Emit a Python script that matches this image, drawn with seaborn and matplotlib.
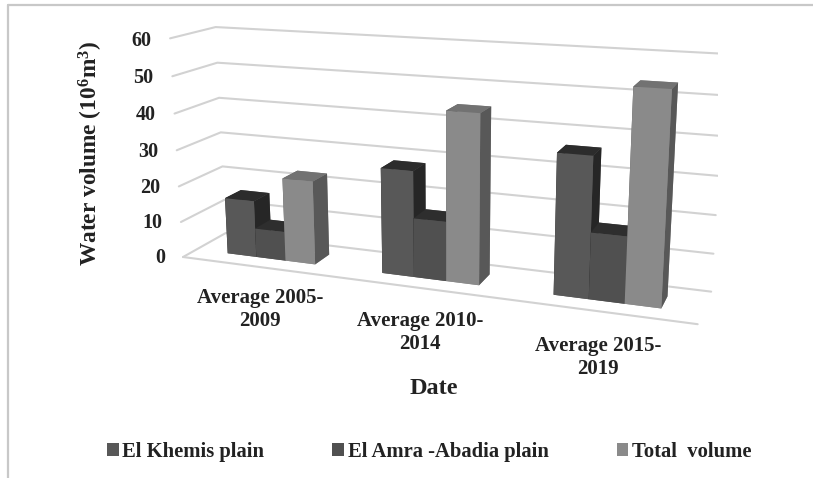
import matplotlib
matplotlib.use("Agg")
import matplotlib.pyplot as plt
from matplotlib.lines import Line2D
from matplotlib.patches import Patch
import seaborn as sns

# Water volume per period and per plain (10^6 m^3)
periods = ["Average 2005-\n2009", "Average 2010-\n2014", "Average 2015-\n2019"]
series_names = ["El Khemis plain", "El Amra -Abadia plain", "Total  volume"]
el_khemis = [15.8, 28.4, 36.4]
el_amra_abadia = [8.1, 15.9, 17.2]
total_volume = [23.0, 44.7, 53.7]
z_ticks = [0, 10, 20, 30, 40, 50, 60]

# Front, top and right face shades of each series
front_colors = ["#585858", "#505050", "#8a8a8a"]
top_colors = ["#2c2c2c", "#2e2e2e", "#727272"]
side_colors = ["#262626", "#262626", "#585858"]
grid_color = "#d2d2d2"
text_color = "#222222"

sns.set_theme(style="white")
plt.rcParams["font.family"] = ["Liberation Serif", "DejaVu Serif"]
plt.rcParams["font.weight"] = "bold"
plt.rcParams["mathtext.default"] = "regular"
legend_palette = sns.color_palette(front_colors)

W, H = 813, 478
fig = plt.figure(figsize=(W / 100, H / 100), dpi=100, facecolor="white")

# Square 3D axes, in pixels from the figure's left and bottom edges
side_px = 581.5
ax = fig.add_axes([136.7 / W, (H - 461.1) / H, side_px / W, side_px / H],
                  projection="3d", computed_zorder=False)
ax.set_xlim(0, 3, view_margin=0)
ax.set_ylim(0, 1, view_margin=0)
ax.set_zlim(0, 60, view_margin=0)
ax.set_box_aspect((1, 0.1636, 0.4324))
ax.view_init(14.412, -69.377, 0.154)
ax.set_proj_type("persp", focal_length=0.3735)
ax.set_xticks([])
ax.set_yticks([])
ax.set_zticks([])
for axis in (ax.xaxis, ax.yaxis, ax.zaxis):
    axis.set_visible(False)
    axis.label.set_visible(False)
    axis.get_offset_text().set_visible(False)
ax.set_axis_off()

# Gridlines on the left wall and the back wall, plus the floor's front edge
line_style = dict(color=grid_color, lw=1.5, zorder=1, solid_capstyle="round")
for z in z_ticks:
    ax.plot([0, 0, 3], [0, 1, 1], [z, z, z], **line_style)
ax.plot([0, 3], [0, 0], [0, 0], **line_style)

# Bars, painted from left to right so nearer faces cover farther ones
group_margin, bar_width = 0.2129, 0.1926
depth_start, depth_end = 0.3077, 0.6886
order = 2
for i in range(len(periods)):
    for k, values in enumerate([el_khemis, el_amra_abadia, total_volume]):
        # Face order in bar3d: bottom, top, front, back, left, right
        faces = [front_colors[k], top_colors[k], front_colors[k],
                 front_colors[k], side_colors[k], side_colors[k]]
        ax.bar3d(i + group_margin + k * bar_width, depth_start, 0,
                 bar_width, depth_end - depth_start, values[i],
                 color=faces, shade=False, linewidth=0, zorder=order)
        order += 1

# Value-axis and category labels
for z in z_ticks:
    ax.text(-0.125, 0, z - 0.9, str(z), ha="right", va="center", fontsize=14.5,
            fontweight="bold", color=text_color, zorder=40)
for i, label in enumerate(periods):
    ax.text(i + 0.5, 0, -12, label, ha="center", va="center", fontsize=15,
            fontweight="bold", color=text_color, linespacing=1.2, zorder=40)

fig.text(91 / W, 1 - 153 / H, r"Water volume (10$^{6}$m$^{3}$)", rotation=90,
         ha="center", va="center", fontsize=16.8, fontweight="bold",
         color=text_color)
fig.text(434 / W, 1 - 389 / H, "Date", ha="center", va="center", fontsize=17.5,
         fontweight="bold", color=text_color)

handles = [Patch(facecolor=c, edgecolor="none", label=n)
           for c, n in zip(legend_palette, series_names)]
fig.legend(handles=handles, loc="center left",
           bbox_to_anchor=(107 / W, 1 - 452 / H), ncol=3, frameon=False,
           borderpad=0, borderaxespad=0, handlelength=0.56,
           handleheight=0.6, handletextpad=0.17, columnspacing=3.3,
           labelcolor=text_color, prop={"family": "Liberation Serif",
                                        "weight": "bold", "size": 14.9})

# Thin frame on the top and left of the chart area
frame = dict(color="#c8c8c8", lw=1.6, transform=fig.transFigure)
fig.add_artist(Line2D([8 / W, 1], [1 - 5 / H, 1 - 5 / H], **frame))
fig.add_artist(Line2D([8 / W, 8 / W], [0, 1 - 5 / H], **frame))

fig.savefig("out.png", dpi=100)
